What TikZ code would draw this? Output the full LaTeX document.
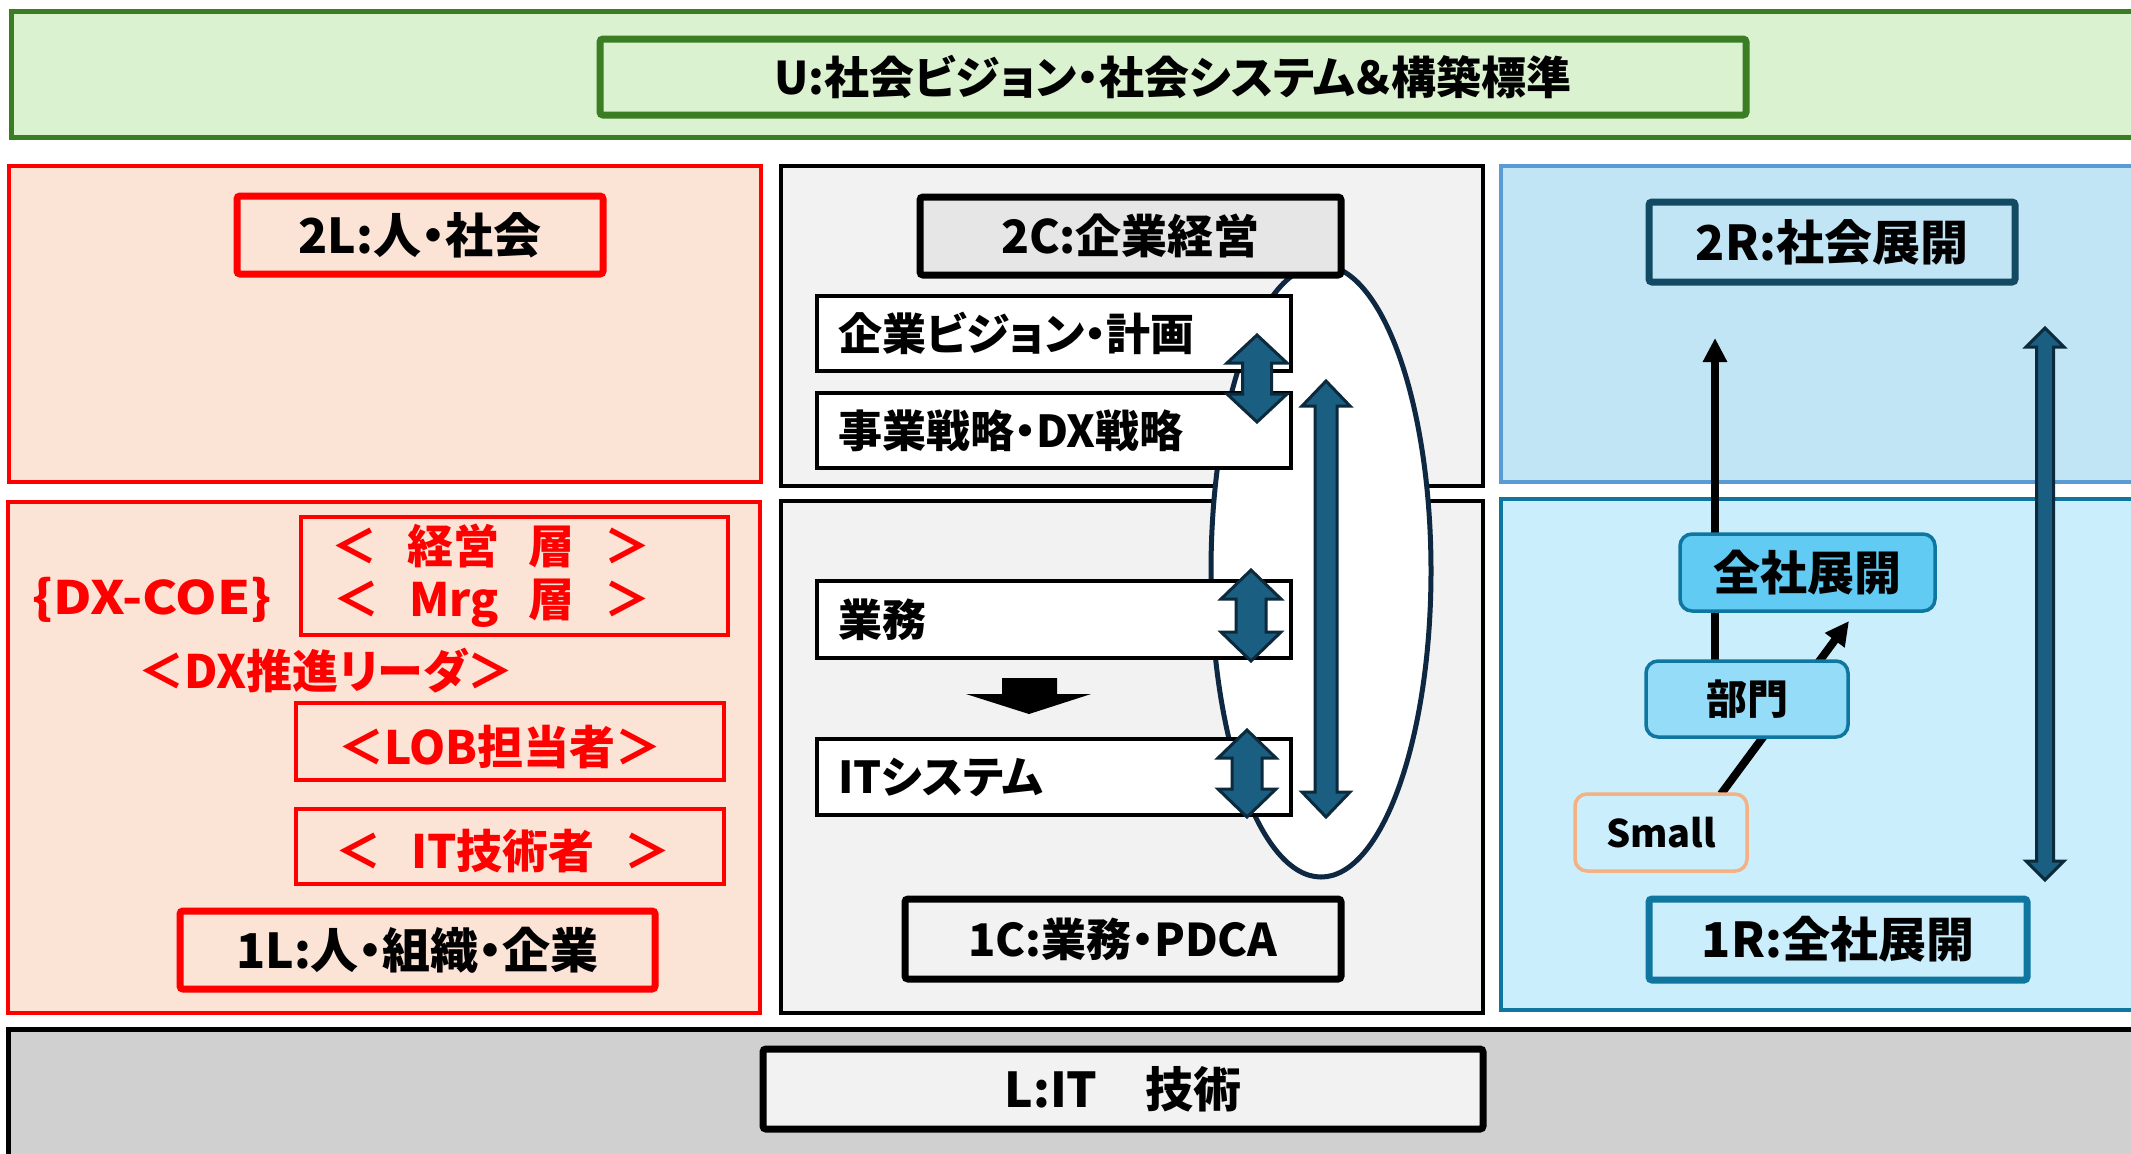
\documentclass[tikz,border=0pt]{standalone}
\usepackage{fontspec}
\setmainfont{Noto Sans CJK JP}[CharacterWidth=AlternateProportional]
\usetikzlibrary{arrows.meta,shapes.geometric}
\pgfdeclarelayer{bg}
\pgfdeclarelayer{mid}
\pgfsetlayers{bg,mid,main}
\definecolor{uFill}{HTML}{DAF2D0}
\definecolor{uLine}{HTML}{3B7D23}
\definecolor{lFill}{HTML}{FBE3D6}
\definecolor{redC}{HTML}{FF0000}
\definecolor{cFill}{HTML}{F2F2F2}
\definecolor{ctwoFill}{HTML}{E6E6E6}
\definecolor{rtFill}{HTML}{C1E5F5}
\definecolor{rtLine}{HTML}{5B9BD5}
\definecolor{rbFill}{HTML}{CAEEFB}
\definecolor{rbLine}{HTML}{0F76A0}
\definecolor{rtwoLine}{HTML}{124A63}
\definecolor{zenFill}{HTML}{61CBF3}
\definecolor{buFill}{HTML}{94DCF8}
\definecolor{smLine}{HTML}{F4B183}
\definecolor{arrFill}{HTML}{1A5E82}
\definecolor{arrLine}{HTML}{0C2A3C}
\definecolor{ellLine}{HTML}{0E2841}
\definecolor{lbFill}{HTML}{D0D0D0}
\newcommand\fsz[1]{\fontsize{#1pt}{#1pt}\selectfont\bfseries}
\newcommand\gap{\hspace{0.65em}}
% box: style, name, x1, y1, x2, y2, text   (pixel coordinates)
\newcommand\bx[7]{\node[#1, minimum width={(#5-#3)*0.5pt}, minimum height={(#6-#4)*0.5pt}] (#2) at ({(#3+#5)/2},{(#4+#6)/2}) {#7};}
\newcommand\vdblarrow[7]{\filldraw[#1] (#2,#3) -- ({#2+#5},{#3+#7}) -- ({#2+#6},{#3+#7}) -- ({#2+#6},{#4-#7}) -- ({#2+#5},{#4-#7}) -- (#2,#4) -- ({#2-#5},{#4-#7}) -- ({#2-#6},{#4-#7}) -- ({#2-#6},{#3+#7}) -- ({#2-#5},{#3+#7}) -- cycle;}
\tikzset{
  base/.style={rectangle, inner sep=0pt, outer sep=0pt},
  uband/.style={base, fill=uFill, draw=uLine, line width=2.5pt},
  ulabel/.style={base, fill=uFill, draw=uLine, line width=3.5pt, rounded corners=1.5pt, font=\fsz{22.5}},
  lpanel/.style={base, fill=lFill, draw=redC, line width=1.75pt},
  rlabel/.style={base, draw=redC, line width=3.5pt, rounded corners=1.5pt, font=\fsz{24}},
  redbox/.style={base, draw=redC, line width=2pt},
  redtxt/.style={text=redC, font=\fsz{23}, inner sep=0pt},
  cpanel/.style={base, fill=cFill, draw=black, line width=1.75pt},
  wbox/.style={base, fill=white, draw=black, line width=1.6pt, text width=216pt, align=left, font=\fsz{22}},
  blabel/.style={base, draw=black, line width=3.5pt, rounded corners=1.5pt, font=\fsz{22}},
  rtpanel/.style={base, fill=rtFill, draw=rtLine, line width=2pt},
  rbpanel/.style={base, fill=rbFill, draw=rbLine, line width=2pt},
  rtwolabel/.style={base, draw=rtwoLine, line width=3.5pt, rounded corners=1.5pt, font=\fsz{24}},
  ronelabel/.style={base, draw=rbLine, line width=3.5pt, rounded corners=1.5pt, font=\fsz{24}},
  zbox/.style={base, fill=zenFill, draw=rbLine, line width=1.75pt, rounded corners=6pt, font=\fsz{23.5}},
  bbox/.style={base, fill=buFill, draw=rbLine, line width=1.75pt, rounded corners=6pt, font=\fsz{20.5}},
  sbox/.style={base, fill=rbFill, draw=smLine, line width=1.75pt, rounded corners=6pt, font=\fsz{19}},
  lbandst/.style={base, fill=lbFill, draw=black, line width=2.5pt},
  blockarr/.style={fill=arrFill, draw=arrLine, line width=1.5pt, line join=miter},
  blkline/.style={draw=black, line width=4pt, -{Triangle[length=12pt,width=11.5pt]}},
}
\begin{document}
\begin{tikzpicture}[x=0.5pt,y=-0.5pt]
\useasboundingbox (0,0) rectangle (2131,1153);
% ---------- panels
\begin{pgfonlayer}{bg}
\fill[white] (0,0) rectangle (2131,1153);
\bx{uband}{uband}{11}{11}{2145}{137}{}
\bx{lpanel}{p2l}{9}{166}{761}{482}{}
\bx{lpanel}{p1l}{8}{502}{760}{1013}{}
\bx{cpanel}{p2c}{781}{166}{1483}{486}{}
\bx{cpanel}{p1c}{781}{501}{1483}{1013}{}
\bx{rtpanel}{p2r}{1501}{166}{2145}{482}{}
\bx{rbpanel}{p1r}{1501}{499}{2145}{1010}{}
\bx{lbandst}{lband}{8}{1029}{2145}{1170}{}
\end{pgfonlayer}
% ---------- top band
\bx{ulabel}{ulab}{600}{39}{1746}{115}{U:社会ビジョン・社会システム＆構築標準}
% ---------- left
\bx{rlabel}{l2l}{237}{196}{603}{274}{2L:人・社会}
\bx{redbox}{mgmt}{301}{517}{728}{635}{}
\node[redtxt] (kei) at (491,546) {＜\gap 経営\gap 層\gap ＞};
\node[redtxt] (mrg) at (492,603) {＜\gap Mrg\gap 層\gap ＞};
\node[redtxt] (coe) at (152,600) {\scalebox{1.15}[1]{\{DX-COE\}}};
\node[redtxt] (lead) at (326,671) {＜DX推進リーダ＞};
\bx{redbox}{lob}{296}{703}{724}{780}{}
\node[redtxt] (lobt) at (500,747) {＜LOB担当者＞};
\bx{redbox}{itb}{296}{809}{724}{884}{}
\node[redtxt] (itbt) at (503,851) {＜\gap IT技術者\gap ＞};
\bx{rlabel}{l1l}{180}{911}{655}{989}{1L:人・組織・企業}
% ---------- center
\begin{pgfonlayer}{mid}
\node[ellipse, draw=ellLine, fill=white, line width=2.5pt, inner sep=0pt, minimum width=110pt, minimum height=306pt] (ell) at (1321,571) {};
\end{pgfonlayer}
\bx{blabel, fill=ctwoFill, font=\fsz{23}}{l2c}{920}{197}{1341}{275}{2C:企業経営}
\bx{wbox}{vis}{817}{296}{1291}{371}{企業ビジョン・計画}
\bx{wbox}{strat}{817}{393}{1291}{468}{事業戦略・DX戦略}
\bx{wbox}{gyomu}{817}{581}{1291}{658}{業務}
\bx{wbox}{itsys}{817}{739}{1291}{815}{ITシステム}
\bx{blabel, fill=cFill, font=\fsz{22.5}}{l1c}{905}{899}{1341}{979}{1C:業務・PDCA}
\fill[black] (1002,678) -- (1057,678) -- (1057,694) -- (1091,694) -- (1029,714) -- (966,694) -- (1002,694) -- cycle;
\vdblarrow{blockarr}{1257}{335}{422}{30}{14.5}{28}
\vdblarrow{blockarr}{1326}{381}{817}{24}{11}{25}
\vdblarrow{blockarr}{1251}{570}{661}{30}{15}{29}
\vdblarrow{blockarr}{1247}{730}{817}{29}{15}{28}
% ---------- right
\bx{rtwolabel}{l2r}{1649}{202}{2015}{282}{2R:社会展開}
\bx{zbox}{zen}{1680}{534}{1935}{611}{全社展開}
\bx{bbox}{bumon}{1646}{661}{1848}{737}{部門}
\bx{sbox}{small}{1575}{794}{1747}{871}{Small}
\bx{ronelabel}{l1r}{1649}{899}{2027}{980}{1R:全社展開}
\coordinate (tipa) at (1715,338);
\coordinate (tipb) at (1849,621);
\begin{pgfonlayer}{mid}
\draw[blkline] (tipa |- bumon.north) -- (tipa);
\draw[blkline] ([xshift=30pt]small.north) -- (tipb);
\end{pgfonlayer}
\vdblarrow{blockarr}{2045}{328}{880}{19}{8.5}{19}
% ---------- bottom band
\bx{blabel, fill=cFill, font=\fsz{24}}{llab}{763}{1049}{1483}{1129}{L:IT　技術}
\end{tikzpicture}
\end{document}
